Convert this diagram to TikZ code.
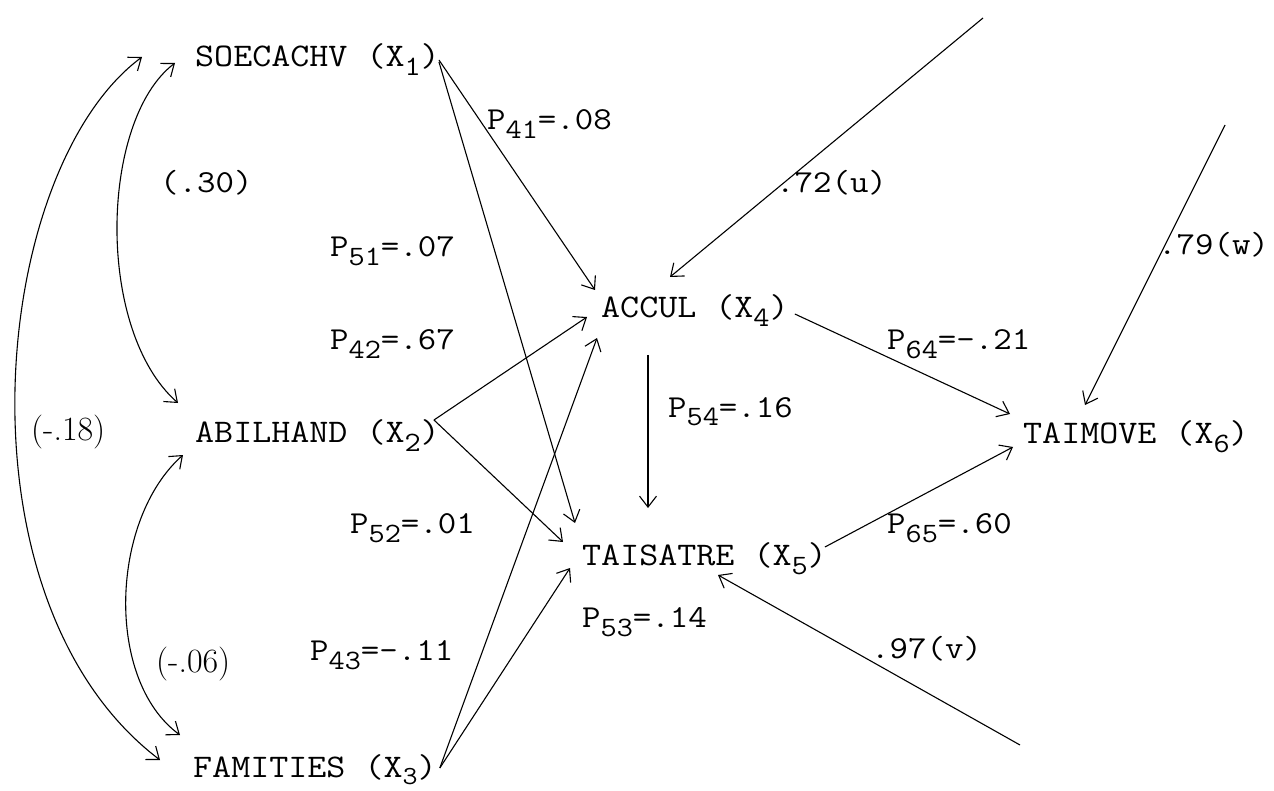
\documentclass[tikz,border=0pt]{standalone}
\usepackage{fontspec}
\usetikzlibrary{arrows.meta,calc}
\newcommand{\lo}[1]{\raisebox{-9pt}{\fontsize{28}{28}\selectfont #1}}
\newcommand{\lot}[1]{\raisebox{-7pt}{\fontsize{26}{26}\selectfont #1}}
\newcommand{\tw}[1]{\scalebox{1.12}[1]{#1}}
\begin{document}
\begin{tikzpicture}[x=1pt,y=-1pt,
  var/.style={anchor=base west,inner sep=0pt,font=\ttfamily\fontsize{33}{33}\selectfont},
  lab/.style={anchor=base west,inner sep=0pt,font=\ttfamily\fontsize{32}{32}\selectfont},
  hand/.style={anchor=base west,inner sep=0pt,font=\rmfamily\fontsize{34}{34}\selectfont},
  tipx/.tip={Straight Barb[length=11pt,width=17pt]},
  arr/.style={-tipx,line width=1.1pt},
  dbl/.style={tipx-tipx,line width=1.1pt}]
\useasboundingbox[fill=white] (0,0) rectangle (1274,791);

% variables
\node[var] (x1) at (195,67) {\tw{SOECACHV (X\lo{1})}};
\node[var] (x2) at (195,442) {\tw{ABILHAND (X\lo{2})}};
\node[var] (x3) at (193,777) {\tw{FAMITIES (X\lot{3})}};
\node[var] (x4) at (601,318) {\tw{ACCUL (X\lo{4})}};
\node[var] (x5) at (582,565) {\tw{TAISATRE (X\lo{5})}};
\node[var] (x6) at (1023,443) {\tw{TAIMOVE (X\lo{6})}};

% residual sources
\coordinate (u) at (983,18);
\coordinate (w) at (1225,125);
\coordinate (v) at (1020,745);

% labels
\node[lab] (l41) at (487,130) {\tw{P\lo{41}=.08}};
\node[lab] (l30) at (160,193) {\tw{(.30)}};
\node[lab] (l51) at (330,257) {\tw{P\lo{51}=.07}};
\node[lab] (l42) at (330,350) {\tw{P\lo{42}=.67}};
\node[hand] (l18) at (31,440) {(-.18)};
\node[lab] (l52) at (350,533) {\tw{P\lo{52}=.01}};
\node[hand] (l06) at (156,672) {(-.06)};
\node[lab] (l43) at (310,660) {\tw{P\lo{43}=-.11}};
\node[lab] (l53) at (582,627) {\tw{P\lo{53}=.14}};
\node[lab] (l54) at (668,417) {\tw{P\lo{54}=.16}};
\node[lab] (l64) at (887,350) {\tw{P\lo{64}=-.21}};
\node[lab] (l65) at (887,533) {\tw{P\lo{65}=.60}};
\node[lab] (lu) at (776,193) {\tw{.72(u)}};
\node[lab] (lw) at (1158,255) {\tw{.79(w)}};
\node[lab] (lv) at (871,658) {\tw{.97(v)}};

% paths
\draw[arr] ($(x1.base east)+(-1,-7)$) -- ($(x4.base west)+(-6,-28)$);
\draw[arr] ($(x1.base east)+(-1,-5)$) -- ($(x5.base west)+(-7,-42)$);
\draw[arr] ($(x2.base east)+(-6,-22)$) -- ($(x4.base west)+(-14,-1)$);
\draw[arr] ($(x2.base east)+(-6,-22)$) -- ($(x5.base west)+(-19,-23)$);
\draw[arr] ($(x3.base east)+(3,-9)$) -- ($(x4.base west)+(-4,20)$);
\draw[arr] ($(x3.base east)+(3,-9)$) -- ($(x5.base west)+(-12,3)$);
\draw[arr] ($(x4.base west)+(47,37)$) -- ($(x5.base west)+(66,-57)$);
\draw[arr] ($(x4.base east)+(6,-4)$) -- ($(x6.base west)+(-13,-29)$);
\draw[arr] ($(x5.base east)+(-2,-18)$) -- ($(x6.base west)+(-10,4)$);
\draw[arr] (u) -- ($(x4.base west)+(69,-41)$);
\draw[arr] (w) -- ($(x6.base west)+(62,-38)$);
\draw[arr] (v) -- ($(x5.base west)+(136,10)$);

% correlations
\draw[dbl] ($(x1.base west)+(-20,-4)$) .. controls (100,120) and (95,330) .. ($(x2.base west)+(-17,-39)$);
\draw[dbl] ($(x2.base west)+(-12,13)$) .. controls (110,520) and (105,680) .. ($(x3.base west)+(-13,-42)$);
\draw[dbl] ($(x1.base west)+(-53,-10)$) .. controls (-10,170) and (-50,600) .. ($(x3.base west)+(-33,-17)$);
\end{tikzpicture}
\end{document}
